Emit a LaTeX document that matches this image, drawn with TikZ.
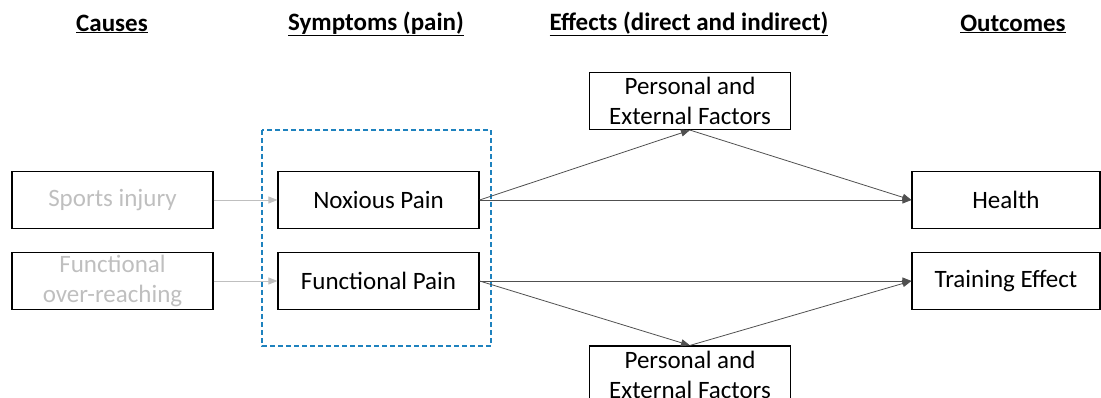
\documentclass[tikz,border=0pt]{standalone}
\usepackage{fontspec}
\setmainfont{Carlito}
\usetikzlibrary{arrows.meta}
\usepackage{xcolor}
\definecolor{dashblue}{RGB}{30,130,190}
\definecolor{causegray}{RGB}{191,191,191}
\definecolor{linegray}{RGB}{80,80,80}

\begin{document}
\begin{tikzpicture}[x=1pt,y=-1pt,
 box/.style={draw=black, line width=1.2pt, minimum width=201pt, minimum height=57pt, align=center, inner sep=0pt, font=\fontsize{25}{30}\selectfont},
 outbox/.style={box, minimum width=188pt},
 head/.style={font=\fontsize{25}{30}\selectfont\bfseries},
 link/.style={-{Triangle[length=9pt,width=7pt]}, draw=linegray, line width=0.8pt},
]
\useasboundingbox (0,0) rectangle (1101,398);
\clip (0,0) rectangle (1101,398);

% column headings
\node[head] (causes) at (112,24) {\underline{Causes}};
\node[head] (symptoms) at (376,24) {\underline{Symptoms (pain)}};
\node[head] (effects) at (689,24) {\underline{Effects (direct and indirect)}};
\node[head] (outcomes) at (1013,24) {\underline{Outcomes}};

% boxes
\node[box, text=causegray] (injury) at (112.5,200) {Sports injury};
\node[box, text=causegray] (overreach) at (112.5,281) {Functional\\over-reaching};
\node[box] (noxious) at (378.5,200) {Noxious Pain};
\node[box] (funcpain) at (378.5,281) {Functional Pain};
\node[box] (factorsA) at (690,101) {Personal and\\External Factors};
\node[box] (factorsB) at (690,374.5) {Personal and\\External Factors};
\node[outbox] (health) at (1006,200) {Health};
\node[outbox] (training) at (1006,281) {Training Effect};

\draw[dashblue, dash pattern=on 5pt off 3pt, line width=1.2pt] (262,130) rectangle (491,346);

% connectors
\draw[link, draw=causegray] (injury) -- (noxious);
\draw[link, draw=causegray] (overreach) -- (funcpain);
\draw[link] (noxious.east) -- (factorsA.south);
\draw[link] (factorsA.south) -- (health.west);
\draw[link] (noxious.east) -- (health.west);
\draw[link] (funcpain.east) -- (training.west);
\draw[link] (funcpain.east) -- (factorsB.north);
\draw[link] (factorsB.north) -- (training.west);
\end{tikzpicture}
\end{document}
